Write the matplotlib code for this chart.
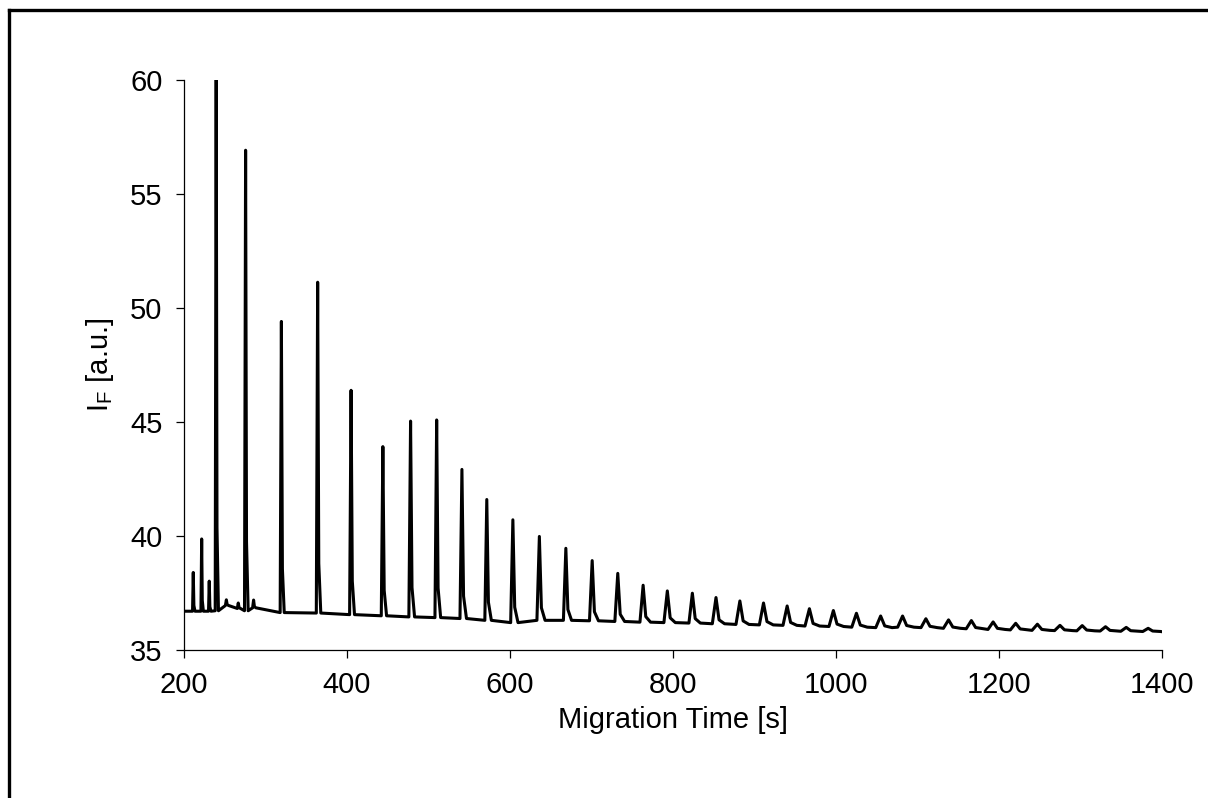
import numpy as np
import matplotlib
matplotlib.use("Agg")
import matplotlib.pyplot as plt
from matplotlib.lines import Line2D

plt.rcParams["font.family"] = ["Liberation Sans", "DejaVu Sans"]

# peaks: migration time [s], apex I_F, local baseline, base width [s]
peak_times = [211.4, 221.7, 231.0, 239.5, 252.0, 266.6, 275.6, 285.4, 319.5, 364.0,
              405.0, 444.0, 478.0, 510.0, 541.0, 571.5, 603.5, 636.0, 668.5, 700.8,
              732.2, 763.3, 793.0, 823.7, 852.7, 882.0, 911.0, 940.0, 967.3, 996.7,
              1025.0, 1054.7, 1081.6, 1110.2, 1138.0, 1166.0, 1192.7, 1220.4, 1247.0,
              1274.7, 1302.0, 1330.6, 1356.0, 1382.9]
peak_heights = [38.40, 39.87, 38.02, 61.0, 37.20, 37.06, 56.92, 37.19, 49.41, 51.13,
                46.39, 43.92, 45.04, 45.09, 42.92, 41.60, 40.71, 39.98, 39.46, 38.92,
                38.36, 37.84, 37.59, 37.49, 37.30, 37.15, 37.06, 36.93, 36.81, 36.73,
                36.61, 36.49, 36.49, 36.37, 36.32, 36.29, 36.23, 36.17, 36.13,
                36.08, 36.07, 36.02, 35.99, 35.95]
peak_bases = [36.70, 36.70, 36.70, 36.72, 36.95, 36.82, 36.72, 36.85, 36.64, 36.62,
              36.55, 36.50, 36.45, 36.42, 36.38, 36.30, 36.20, 36.30, 36.30, 36.28,
              36.25, 36.22, 36.20, 36.18, 36.15, 36.12, 36.10, 36.08, 36.05, 36.03,
              36.00, 35.98, 36.00, 35.98, 35.95, 35.93, 35.90, 35.88, 35.86,
              35.85, 35.84, 35.83, 35.82, 35.81]
peak_widths = [3, 3, 3, 4, 4, 4, 4.5, 4, 5, 5.5,
               6, 6.5, 7, 7, 8, 8, 9, 10, 10, 11,
               12, 13, 14, 14, 15, 16, 17, 17, 18, 18,
               19, 20, 20, 20, 21, 21, 21, 22, 22,
               22, 22, 22, 22, 22]
start_time, start_level = 200.0, 36.70
end_time, end_level = 1400.0, 35.80

# polyline through the peaks (left foot, apex, tail shoulder, right foot)
t = [start_time]
y = [start_level]
for pt, ph, pb, pw in zip(peak_times, peak_heights, peak_bases, peak_widths):
    t += [pt - 0.3 * pw, pt, pt + 0.25 * pw, pt + 0.7 * pw]
    y += [pb, ph, pb + 0.15 * (ph - pb), pb]
t.append(end_time)
y.append(end_level)

fig = plt.figure(figsize=(12.08, 7.98), dpi=100)
ax = fig.add_axes([0.1523, 0.1855, 0.8097, 0.7142])
ax.plot(t, y, color="black", lw=2.2, solid_joinstyle="round")

ax.set_xlim(200, 1400)
ax.set_ylim(35, 60)
ax.set_xticks(np.arange(200, 1401, 200))
ax.set_yticks(np.arange(35, 61, 5))
ax.spines["top"].set_visible(False)
ax.spines["right"].set_visible(False)
for s in ["left", "bottom"]:
    ax.spines[s].set_linewidth(0.9)
ax.tick_params(direction="out", length=5.5, width=0.9, labelsize=21, pad=10)
ax.set_xlabel("Migration Time [s]", fontsize=21, labelpad=5)
ax.set_ylabel(r"I$_\mathregular{F}$ [a.u.]", fontsize=21, labelpad=10)

# frame of the original graphic (cropped at right and bottom)
fig.add_artist(Line2D([9 / 1208, 1.0], [1 - 10 / 798, 1 - 10 / 798], color="black", lw=2.4,
                      transform=fig.transFigure))
fig.add_artist(Line2D([9 / 1208, 9 / 1208], [0.0, 1 - 10 / 798], color="black", lw=2.4,
                      transform=fig.transFigure))

plt.savefig("out.png", dpi=100)
